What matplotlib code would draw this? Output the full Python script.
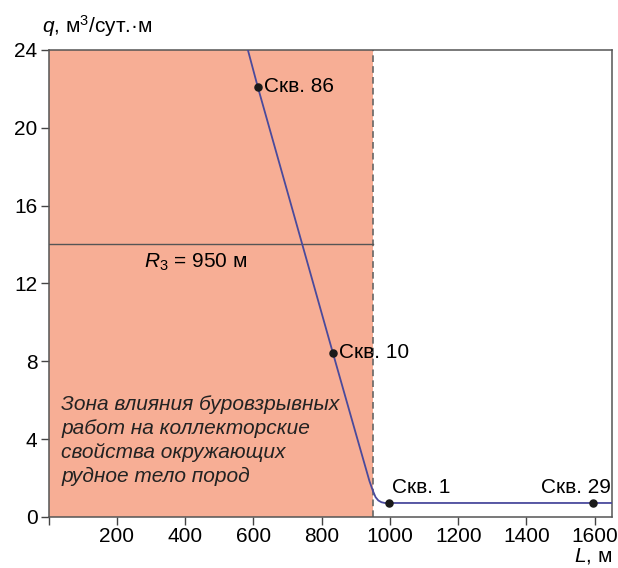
import matplotlib
matplotlib.use("Agg")
import matplotlib.pyplot as plt
import numpy as np

plt.rcParams['font.family'] = ['Liberation Sans', 'DejaVu Sans']
plt.rcParams['mathtext.fontset'] = 'custom'
plt.rcParams['mathtext.rm'] = 'Liberation Sans'
plt.rcParams['mathtext.it'] = 'Liberation Sans:italic'

# q(L) curve
curve_L = [584, 613, 700, 833, 900, 940, 950, 958, 966, 975, 985, 1000, 1650]
curve_q = [24.0, 22.1, 16.7, 8.43, 4.3, 1.85, 1.35, 1.02, 0.85, 0.76, 0.72, 0.72, 0.72]

# wells
wells = ["Скв. 86", "Скв. 10", "Скв. 1", "Скв. 29"]
well_L = [613, 833, 997, 1595]
well_q = [22.1, 8.43, 0.72, 0.72]

R3 = 950
r_line_q = 14.05

fill_c = '#f7ae95'
line_c = '#4a4a9c'

fig = plt.figure(figsize=(6.18, 5.68), dpi=100)
ax = fig.add_axes([0.0785, 0.0898, 0.9115, 0.8222])

ax.axvspan(0, R3, color=fill_c, lw=0, zorder=0)
ax.axvline(R3, color='#666666', lw=1.2, ls=(0, (4, 2.5)), zorder=1)
ax.plot([0, R3], [r_line_q, r_line_q], color='#555555', lw=1.0, zorder=2)

ax.plot(curve_L, curve_q, color=line_c, lw=1.3, zorder=3)
ax.scatter(well_L, well_q, s=26, color='#1a1a1a', zorder=4)

fs = 15
ax.text(631, 22.1, wells[0], fontsize=fs, va='center', ha='left')
ax.text(851, 8.43, wells[1], fontsize=fs, va='center', ha='left')
ax.text(1005, 1.5, wells[2], fontsize=fs, va='center', ha='left')
ax.text(1646, 1.5, wells[3], fontsize=fs, va='center', ha='right')

ax.text(280, 13.1, r"$R_3$ = 950 м", fontsize=fs, va='center', ha='left')

ax.text(38, 6.25, "Зона влияния буровзрывных\nработ на коллекторские\nсвойства окружающих\nрудное тело пород",
        fontsize=fs, style='italic', va='top', ha='left', linespacing=1.32, color='#222222')

ax.set_xlim(0, 1650)
ax.set_ylim(0, 24)
ax.set_xticks(np.arange(0, 1601, 200))
ax.set_xticklabels([''] + [str(v) for v in range(200, 1601, 200)])
ax.set_yticks(np.arange(0, 25, 4))
ax.tick_params(labelsize=fs, length=6, width=1, color='#444444', direction='out', pad=2)
ax.tick_params(axis='x', pad=1)
for s in ax.spines.values():
    s.set_color('#555555')
    s.set_linewidth(1.1)

fig.text(0.99, 0.004, r"$L$, м", fontsize=fs, ha='right', va='bottom')
fig.text(0.068, 0.955, r"$q$, м$^3$/сут.·м", fontsize=fs, ha='left', va='center')

fig.savefig("out.png", dpi=100)
